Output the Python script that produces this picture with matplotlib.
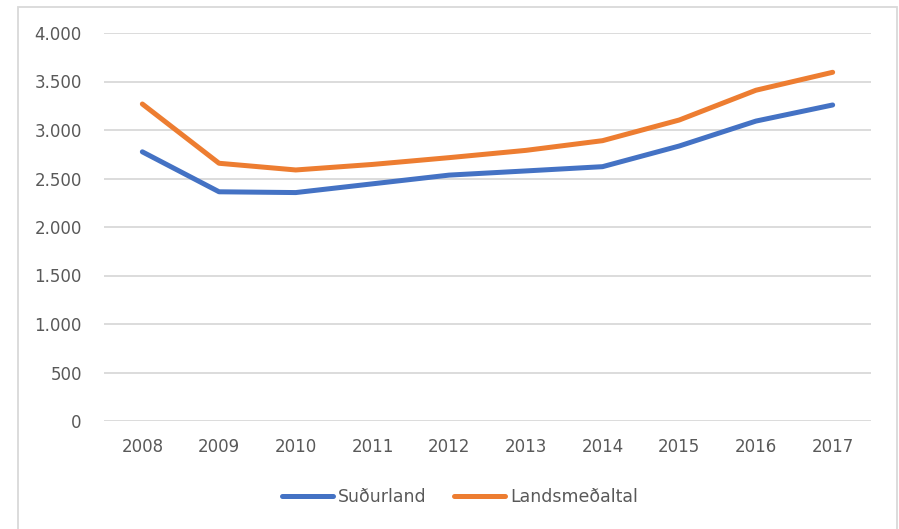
import matplotlib.pyplot as plt
from matplotlib.patches import Rectangle
from matplotlib.ticker import FuncFormatter

years = ["2008", "2009", "2010", "2011", "2012", "2013", "2014", "2015", "2016", "2017"]
sudurland = [2775, 2363, 2355, 2445, 2535, 2578, 2622, 2835, 3092, 3258]
landsmedaltal = [3268, 2657, 2588, 2645, 2715, 2790, 2890, 3103, 3410, 3595]
y_ticks = [0, 500, 1000, 1500, 2000, 2500, 3000, 3500, 4000]

text_color = "#595959"
grid_color = "#D9D9D9"

fig = plt.figure(figsize=(8.99, 5.29), dpi=100)
ax = fig.add_axes([104 / 899, 1 - 421 / 529, 767 / 899, 388 / 529])

x = range(len(years))
ax.plot(x, sudurland, color="#4472C4", lw=3.6, solid_capstyle="round",
        solid_joinstyle="round", label="Suðurland")
ax.plot(x, landsmedaltal, color="#ED7D31", lw=3.6, solid_capstyle="round",
        solid_joinstyle="round", label="Landsmeðaltal")

ax.set_xlim(-0.5, len(years) - 0.5)
ax.set_ylim(0, 4000)
ax.set_xticks(list(x))
ax.set_xticklabels(years)
ax.set_yticks(y_ticks)
ax.yaxis.set_major_formatter(FuncFormatter(lambda v, p: f"{int(v):,}".replace(",", ".")))
ax.grid(axis="y", color=grid_color, lw=1.3)
ax.set_axisbelow(True)
for s in ax.spines.values():
    s.set_visible(False)
ax.tick_params(axis="both", length=0, labelsize=12, labelcolor=text_color)
ax.tick_params(axis="y", pad=16)
ax.tick_params(axis="x", pad=12)

leg = ax.legend(loc="center", bbox_to_anchor=(460 / 899, (529 - 497) / 529),
                bbox_transform=fig.transFigure, ncol=2, frameon=False,
                fontsize=12.5, handlelength=2.9, handletextpad=0.3, columnspacing=1.6)
for t in leg.get_texts():
    t.set_color(text_color)

# outer chart frame
fig.patches.append(Rectangle((18 / 899, -0.01), (897 - 18) / 899, 1 - 7 / 529 + 0.01,
                             transform=fig.transFigure, fill=False,
                             edgecolor=grid_color, lw=1.3))

fig.savefig("out.png", dpi=100)
